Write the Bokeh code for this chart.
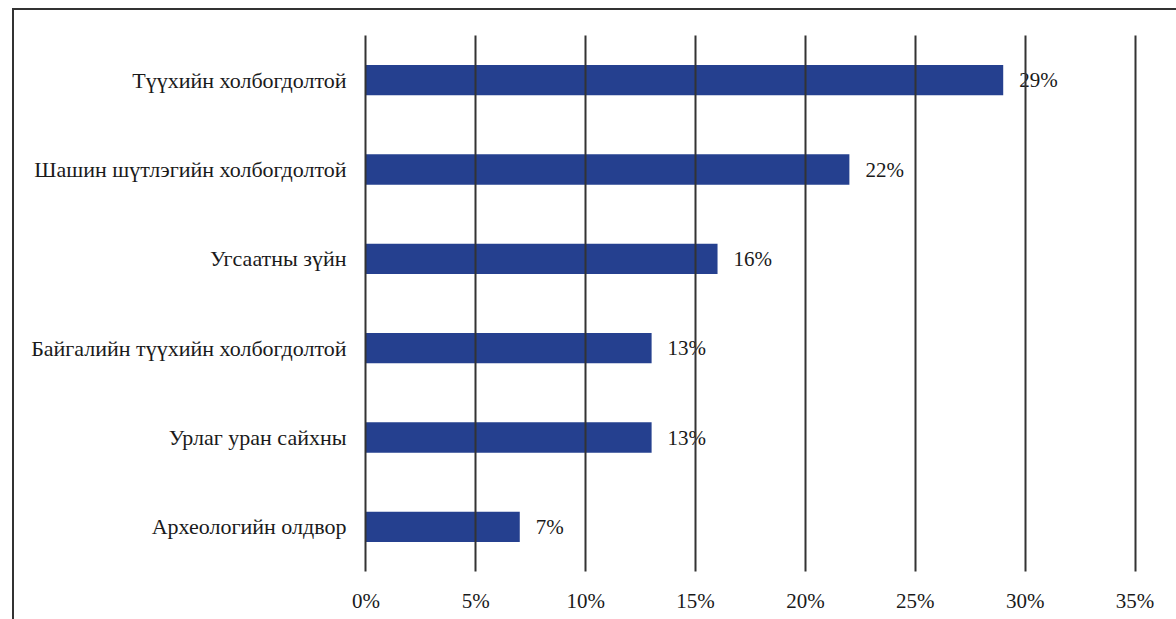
from bokeh.plotting import figure
from bokeh.models import ColumnDataSource, FactorRange, Range1d, FixedTicker, CustomJSTickFormatter
from bokeh.core.properties import value
from bokeh.embed import file_html
from bokeh.resources import INLINE

categories = [
    "Түүхийн холбогдолтой",
    "Шашин шүтлэгийн холбогдолтой",
    "Угсаатны зүйн",
    "Байгалийн түүхийн холбогдолтой",
    "Урлаг уран сайхны",
    "Археологийн олдвор",
]
values = [29, 22, 16, 13, 13, 7]
labels = ["29%", "22%", "16%", "13%", "13%", "7%"]
ticks = [0, 5, 10, 15, 20, 25, 30, 35]

FONT = "Liberation Serif"

src = ColumnDataSource(dict(cat=categories, val=values, lab=labels))

p = figure(
    width=1164, height=611,
    y_range=FactorRange(*categories[::-1]),
    x_range=Range1d(-0.02, 35.02),
    output_backend="svg", toolbar_location=None,
    min_border_left=353, min_border_right=41, min_border_top=27, min_border_bottom=48,
)
p.margin = (8, 0, 0, 12)
p.styles = {"box-shadow": "inset 2px 2px 0 0 #333333"}
p.border_fill_color = None
p.background_fill_color = None
p.outline_line_color = None

p.hbar(y="cat", right="val", left=0, height=0.34, source=src,
       fill_color="#25408F", line_color=None)

p.text(x="val", y="cat", text="lab", source=src, x_offset=16,
       text_baseline="middle", text_align="left",
       text_font=value(FONT), text_font_size="21px", text_color="#1a1a1a")

p.xaxis.ticker = FixedTicker(ticks=ticks)
p.xaxis.formatter = CustomJSTickFormatter(code="return tick + '%';")
for ax in (p.xaxis[0], p.yaxis[0]):
    ax.axis_line_color = None
    ax.major_tick_line_color = None
    ax.minor_tick_line_color = None
    ax.major_label_text_font = FONT
    ax.major_label_text_color = "#1a1a1a"
p.xaxis.major_label_text_font_size = "21px"
p.yaxis.major_label_text_font_size = "22px"
p.xaxis.major_label_standoff = 11
p.yaxis.major_label_standoff = 13

p.ygrid.grid_line_color = None
p.xgrid.ticker = FixedTicker(ticks=ticks)
p.xgrid.grid_line_color = "#333333"
p.xgrid.grid_line_width = 2
p.xgrid.level = "overlay"

open("out.html", "w").write(file_html(p, INLINE))
